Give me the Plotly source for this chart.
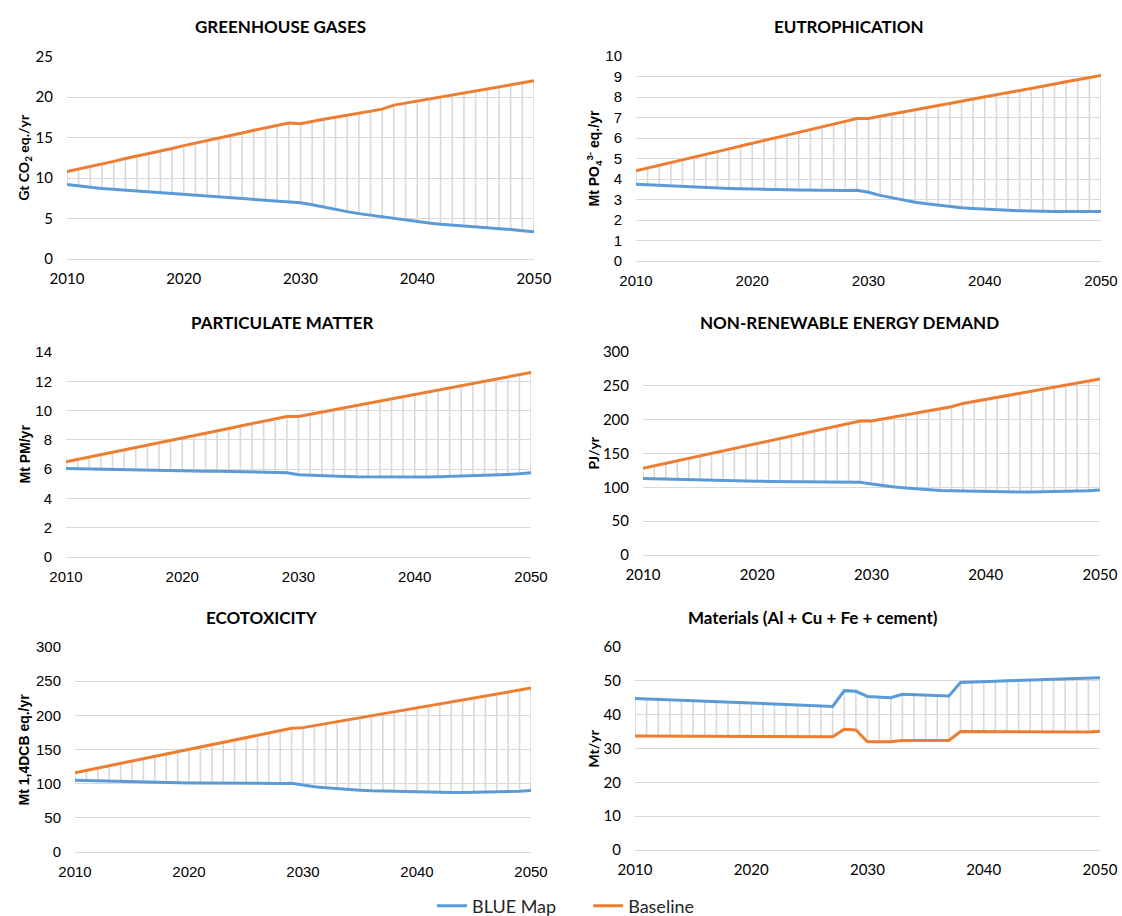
import plotly.graph_objects as go

years = list(range(2010, 2051))

# ---- GREENHOUSE GASES (Gt CO2 eq./yr)
ghg_blue = [9.2, 9.0, 8.85, 8.7, 8.6, 8.5, 8.4, 8.3, 8.2, 8.1, 8.0, 7.9, 7.8, 7.7, 7.6, 7.5, 7.4, 7.3, 7.2, 7.1,
            6.95, 6.7, 6.4, 6.1, 5.85, 5.6, 5.4, 5.2, 5.0, 4.8, 4.6, 4.45, 4.3, 4.2, 4.05, 3.95, 3.85, 3.75, 3.65, 3.5, 3.35]
ghg_base = [10.8, 11.1, 11.4, 11.75, 12.05, 12.4, 12.7, 13.0, 13.35, 13.65, 14.0, 14.3, 14.6, 14.95, 15.25, 15.55,
            15.9, 16.2, 16.5, 16.8, 16.7, 17.0, 17.25, 17.5, 17.75, 18.0, 18.25, 18.5, 19.0, 19.25, 19.5, 19.75,
            20.0, 20.25, 20.5, 20.75, 21.0, 21.25, 21.5, 21.75, 22.0]

# ---- EUTROPHICATION (Mt PO4 eq./yr)
eut_blue = [3.75, 3.72, 3.69, 3.66, 3.63, 3.6, 3.58, 3.56, 3.54, 3.52, 3.5, 3.49, 3.48, 3.47, 3.46, 3.45, 3.45,
            3.44, 3.44, 3.45, 3.35, 3.2, 3.08, 2.97, 2.87, 2.79, 2.72, 2.66, 2.6, 2.56, 2.52, 2.49, 2.47, 2.45,
            2.43, 2.42, 2.41, 2.41, 2.41, 2.41, 2.42]
eut_base = [4.4, 4.53, 4.67, 4.8, 4.94, 5.07, 5.2, 5.34, 5.47, 5.61, 5.74, 5.87, 6.01, 6.14, 6.28, 6.41, 6.54,
            6.68, 6.81, 6.95, 6.95, 7.06, 7.16, 7.27, 7.37, 7.48, 7.58, 7.69, 7.79, 7.9, 8.0, 8.11, 8.21, 8.32,
            8.42, 8.53, 8.63, 8.74, 8.84, 8.95, 9.05]

# ---- PARTICULATE MATTER (Mt PM/yr)
pm_blue = [6.05, 6.03, 6.01, 6.0, 5.99, 5.97, 5.96, 5.95, 5.93, 5.92, 5.9, 5.88, 5.86, 5.85, 5.83, 5.82, 5.8,
           5.79, 5.78, 5.76, 5.62, 5.58, 5.55, 5.52, 5.5, 5.48, 5.47, 5.46, 5.46, 5.46, 5.46, 5.47, 5.48, 5.5,
           5.52, 5.54, 5.57, 5.6, 5.64, 5.68, 5.75]
pm_base = [6.5, 6.66, 6.83, 6.99, 7.15, 7.32, 7.48, 7.64, 7.81, 7.97, 8.13, 8.29, 8.46, 8.62, 8.78, 8.95, 9.11,
           9.27, 9.44, 9.6, 9.6, 9.75, 9.9, 10.05, 10.2, 10.35, 10.5, 10.65, 10.8, 10.95, 11.1, 11.25, 11.4,
           11.55, 11.7, 11.85, 12.0, 12.15, 12.3, 12.45, 12.6]

# ---- NON-RENEWABLE ENERGY DEMAND (PJ/yr)
nre_blue = [113, 112.5, 112, 111.5, 111, 110.5, 110, 109.8, 109.5, 109.2, 109, 108.8, 108.6, 108.4, 108.2, 108,
            108, 107.8, 107.6, 107.5, 105, 102.5, 100.5, 99, 97.5, 96.5, 95.5, 95, 94.5, 94, 93.5, 93.2, 93, 93,
            93, 93.2, 93.5, 94, 94.5, 95, 96]
nre_base = [128, 131.7, 135.4, 139, 142.7, 146.4, 150.1, 153.8, 157.5, 161.2, 164.8, 168.5, 172.2, 175.9, 179.6,
            183.3, 187, 190.6, 194.3, 198, 198, 201, 204, 207, 210, 213, 216, 219, 224, 227, 230, 233, 236, 239,
            242, 245, 248, 251, 254, 257, 260]

# ---- ECOTOXICITY (Mt 1,4DCB eq./yr)
eco_blue = [105, 104.5, 104, 103.5, 103, 102.5, 102, 101.8, 101.5, 101.2, 101, 100.8, 100.6, 100.5, 100.4, 100.3,
            100.3, 100.3, 100.4, 100.5, 97.5, 95.5, 94, 92.5, 91.5, 90.5, 89.5, 89, 88.5, 88, 87.5, 87.2, 87, 87,
            87, 87.2, 87.5, 88, 88.5, 89, 90]
eco_base = [116, 119.4, 122.8, 126.3, 129.7, 133.1, 136.5, 139.9, 143.4, 146.8, 150.2, 153.6, 157.1, 160.5, 163.9,
            167.3, 170.7, 174.2, 177.6, 181, 182, 184.9, 187.8, 190.7, 193.6, 196.5, 199.4, 202.3, 205.2, 208.1,
            211, 213.9, 216.8, 219.7, 222.6, 225.5, 228.4, 231.3, 234.2, 237.1, 240]

# ---- Materials (Al + Cu + Fe + cement) (Mt/yr)
mat_blue = [44.8, 44.65, 44.5, 44.35, 44.2, 44.05, 43.9, 43.75, 43.6, 43.45, 43.3, 43.15, 43.0, 42.9, 42.8, 42.7,
            42.6, 42.45, 47.1, 46.9, 45.4, 45.2, 45.0, 46.0, 45.85, 45.7, 45.6, 45.5, 49.5, 49.7, 49.8, 49.9,
            50.0, 50.1, 50.2, 50.3, 50.4, 50.5, 50.6, 50.75, 50.9]
mat_base = [33.7, 33.69, 33.68, 33.67, 33.66, 33.65, 33.64, 33.63, 33.62, 33.61, 33.6, 33.59, 33.58, 33.57,
            33.56, 33.55, 33.54, 33.5, 35.7, 35.5, 32.0, 32.0, 32.0, 32.4, 32.4, 32.4, 32.4, 32.4, 35.0, 35.0,
            35.0, 35.0, 34.98, 34.96, 34.94, 34.92, 34.9, 34.88, 34.86, 34.85, 35.1]

titles = ["GREENHOUSE GASES", "EUTROPHICATION", "PARTICULATE MATTER",
          "NON-RENEWABLE ENERGY DEMAND", "ECOTOXICITY", "Materials (Al + Cu + Fe + cement)"]
ytitles = ["Gt CO<sub>2</sub> eq./yr", "Mt PO<sub>4</sub><sup>3-</sup> eq./yr", "Mt PM/yr",
           "PJ/yr", "Mt 1,4DCB eq./yr", "Mt/yr"]
series_names = ["BLUE Map", "Baseline"]
series = [(ghg_blue, ghg_base), (eut_blue, eut_base), (pm_blue, pm_base),
          (nre_blue, nre_base), (eco_blue, eco_base), (mat_blue, mat_base)]
ymax = [25, 10, 14, 300, 300, 60]
ydtick = [5, 1, 2, 50, 50, 10]
xticks = [2010, 2020, 2030, 2040, 2050]

W, H = 1122, 916
# pixel boxes: left, right, top, bottom
boxes = [(67, 534, 56.5, 259), (636, 1101, 56, 261),
         (66, 531, 352, 557), (643, 1100, 352, 555),
         (75, 531, 647, 852), (635, 1100, 647, 850)]
title_pos = [(280, 26), (849, 26), (282, 322), (849, 322), (262, 617), (813, 617)]
ytitle_x = [25, 594, 24, 593, 23, 593]
CAL = "Lato, 'Open Sans', sans-serif"
ARI = "'Liberation Sans', Arial, sans-serif"
tick_fonts = [CAL, ARI, ARI, CAL, ARI, CAL]
ytitle_fonts = [CAL, ARI, ARI, CAL, ARI, CAL]

BLUE = "#5B9BD5"
ORANGE = "#ED7D31"
GRID = "#D9D9D9"

fig = go.Figure()
layout = dict(
    width=W, height=H, margin=dict(l=0, r=0, t=0, b=0, pad=0, autoexpand=False),
    paper_bgcolor="white", plot_bgcolor="white",
    showlegend=True,
    legend=dict(orientation="h", x=432 / W, xanchor="left", y=1 - 906 / H, yanchor="middle",
                font=dict(family=CAL, size=18, color="#262626"), itemwidth=30,
                traceorder="normal", bgcolor="rgba(0,0,0,0)"),
)
annotations = []

for i in range(6):
    b, o = series[i]
    n = i + 1
    xa = "x" if n == 1 else f"x{n}"
    ya = "y" if n == 1 else f"y{n}"
    # drop lines between the two series at every year
    dx, dy = [], []
    for yr, bv, ov in zip(years, b, o):
        dx += [yr, yr, None]
        dy += [bv, ov, None]
    fig.add_trace(go.Scatter(x=dx, y=dy, mode="lines", line=dict(color=GRID, width=1.6),
                             xaxis=xa, yaxis=ya, showlegend=False, hoverinfo="skip"))
    fig.add_trace(go.Scatter(x=years, y=b, mode="lines",
                             name=series_names[0] + "\u2003\u2003",
                             line=dict(color=BLUE, width=3), xaxis=xa, yaxis=ya,
                             showlegend=(i == 0), legendgroup="blue"))
    fig.add_trace(go.Scatter(x=years, y=o, mode="lines", name=series_names[1],
                             line=dict(color=ORANGE, width=3), xaxis=xa, yaxis=ya,
                             showlegend=(i == 0), legendgroup="base"))
    l, r, t, bt = boxes[i]
    xkey = "xaxis" if n == 1 else f"xaxis{n}"
    ykey = "yaxis" if n == 1 else f"yaxis{n}"
    layout[xkey] = dict(domain=[l / W, r / W], range=[2010, 2050], anchor=ya,
                        tickvals=xticks, showgrid=False, zeroline=False, showline=False,
                        automargin=False,
                        ticks="outside", ticklen=6, tickcolor="rgba(0,0,0,0)",
                        tickfont=dict(family=tick_fonts[i], size=15, color="#000000"))
    layout[ykey] = dict(domain=[1 - bt / H, 1 - t / H], range=[0, ymax[i]], anchor=xa,
                        dtick=ydtick[i], tick0=0, showgrid=True, gridcolor=GRID, gridwidth=1,
                        zeroline=True, zerolinecolor=GRID, zerolinewidth=1, showline=False,
                        automargin=False,
                        ticks="outside", ticklen=10, tickcolor="rgba(0,0,0,0)",
                        tickfont=dict(family=tick_fonts[i], size=15, color="#000000"))
    tx, ty = title_pos[i]
    annotations.append(dict(text="<b>" + titles[i] + "</b>", x=tx / W, y=1 - ty / H,
                            xref="paper", yref="paper", showarrow=False,
                            xanchor="center", yanchor="middle",
                            font=dict(family=CAL, size=17, color="#000000")))
    annotations.append(dict(text="<b>" + ytitles[i] + "</b>", x=ytitle_x[i] / W,
                            y=1 - ((t + bt) / 2) / H, xref="paper", yref="paper",
                            showarrow=False, textangle=-90, xanchor="center", yanchor="middle",
                            font=dict(family=ytitle_fonts[i], size=14, color="#000000")))

layout["annotations"] = annotations
fig.update_layout(**layout)
fig.write_html("out.html", config={"displayModeBar": False},
               post_script="document.body.style.margin='0';document.body.style.overflow='hidden';")
